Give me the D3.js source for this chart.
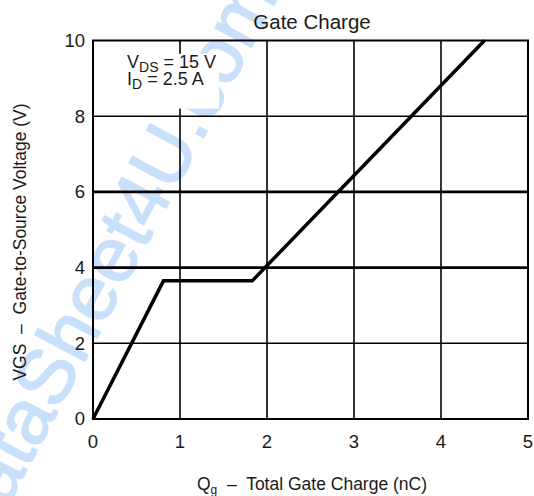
<!DOCTYPE html>
<html>
<head>
<meta charset="utf-8">
<script src="https://cdn.jsdelivr.net/npm/d3@7"></script>
<style>
  body { margin: 0; background: #fff; }
  text { font-family: "Liberation Sans", Arial, sans-serif; fill: #1a1a1a; white-space: pre; }
</style>
</head>
<body>
<div id="chart"></div>
<script>
const FRAME_WIDTH = 534;
const FRAME_HEIGHT = 496;
const MARGINS = {left: 93, right: 6, top: 40.5, bottom: 77};

// Gate charge curve: Qg (nC) vs VGS (V)
const QG = [0, 0.81, 1.83, 4.5];
const VGS = [0, 3.65, 3.65, 10];

const X_TICKS = [0, 1, 2, 3, 4, 5];
const Y_TICKS = [0, 2, 4, 6, 8, 10];
const BOLD_Y = [4, 6];

const FRAME = d3.select("#chart")
                .append("svg")
                  .attr("width", FRAME_WIDTH)
                  .attr("height", FRAME_HEIGHT);

const X_SCALE = d3.scaleLinear()
                  .domain([0, 5])
                  .range([MARGINS.left, FRAME_WIDTH - MARGINS.right]);

const Y_SCALE = d3.scaleLinear()
                  .domain([0, 10])
                  .range([FRAME_HEIGHT - MARGINS.bottom, MARGINS.top]);

// watermark behind everything
FRAME.append("text")
     .attr("transform", "translate(130,276) rotate(-62)")
     .attr("text-anchor", "middle")
     .style("font-size", "78px")
     .style("fill", "#c9e0fa")
     .style("stroke", "#c9e0fa")
     .style("stroke-width", 1.5)
     .text("DataSheet4U.com");

// grid lines
FRAME.selectAll(".vgrid")
     .data(X_TICKS.slice(1, -1))
     .enter()
     .append("line")
       .attr("x1", (d) => X_SCALE(d))
       .attr("x2", (d) => X_SCALE(d))
       .attr("y1", Y_SCALE(0))
       .attr("y2", Y_SCALE(10))
       .attr("stroke", "#000")
       .attr("stroke-width", 1.6);

FRAME.selectAll(".hgrid")
     .data(Y_TICKS.slice(1, -1))
     .enter()
     .append("line")
       .attr("x1", X_SCALE(0))
       .attr("x2", X_SCALE(5))
       .attr("y1", (d) => Y_SCALE(d))
       .attr("y2", (d) => Y_SCALE(d))
       .attr("stroke", "#000")
       .attr("stroke-width", (d) => BOLD_Y.includes(d) ? 2.8 : 1.6);

// white box under the conditions note
FRAME.append("rect")
     .attr("x", X_SCALE(0.3))
     .attr("y", Y_SCALE(9.65))
     .attr("width", X_SCALE(1.45) - X_SCALE(0.3))
     .attr("height", Y_SCALE(8.2) - Y_SCALE(9.65))
     .attr("fill", "#fff");

// frame
FRAME.append("rect")
     .attr("x", X_SCALE(0))
     .attr("y", Y_SCALE(10))
     .attr("width", X_SCALE(5) - X_SCALE(0))
     .attr("height", Y_SCALE(0) - Y_SCALE(10))
     .attr("fill", "none")
     .attr("stroke", "#000")
     .attr("stroke-width", 2);

// curve
const line = d3.line()
               .x((d, i) => X_SCALE(QG[i]))
               .y((d, i) => Y_SCALE(VGS[i]));

FRAME.append("path")
     .attr("d", line(QG))
     .attr("fill", "none")
     .attr("stroke", "#000")
     .attr("stroke-width", 3.5)
     .attr("stroke-linejoin", "miter");

// tick labels
FRAME.selectAll(".xlab")
     .data(X_TICKS)
     .enter()
     .append("text")
       .attr("x", (d) => X_SCALE(d))
       .attr("y", Y_SCALE(0) + 29)
       .attr("text-anchor", "middle")
       .style("font-size", "18.5px")
       .text((d) => d);

FRAME.selectAll(".ylab")
     .data(Y_TICKS)
     .enter()
     .append("text")
       .attr("x", X_SCALE(0) - 8)
       .attr("y", (d) => Y_SCALE(d))
       .attr("dy", "0.35em")
       .attr("text-anchor", "end")
       .style("font-size", "18.5px")
       .text((d) => d);

// title
FRAME.append("text")
     .attr("x", 312)
     .attr("y", 29)
     .attr("text-anchor", "middle")
     .style("font-size", "20.5px")
     .text("Gate Charge");

// x axis label
const XL = FRAME.append("text")
     .attr("x", 312)
     .attr("y", 490)
     .attr("text-anchor", "middle")
     .style("font-size", "17.5px");
XL.append("tspan").text("Q");
XL.append("tspan").attr("dy", 4).style("font-size", "12px").text("g");
XL.append("tspan").attr("dy", -4).text("  \u2013  Total Gate Charge (nC)");

// y axis label
FRAME.append("text")
     .attr("transform", "translate(26,242) rotate(-90)")
     .attr("text-anchor", "middle")
     .style("font-size", "17.5px")
     .text("VGS  \u2013  Gate-to-Source Voltage (V)");

// conditions note
const N1 = FRAME.append("text")
     .attr("x", 127)
     .attr("y", 68)
     .style("font-size", "18px");
N1.append("tspan").text("V");
N1.append("tspan").attr("dy", 4).style("font-size", "14px").text("DS");
N1.append("tspan").attr("dy", -4).text(" = 15 V");

const N2 = FRAME.append("text")
     .attr("x", 127)
     .attr("y", 85)
     .style("font-size", "18px");
N2.append("tspan").text("I");
N2.append("tspan").attr("dy", 4).style("font-size", "14px").text("D");
N2.append("tspan").attr("dy", -4).text(" = 2.5 A");
</script>
</body>
</html>
